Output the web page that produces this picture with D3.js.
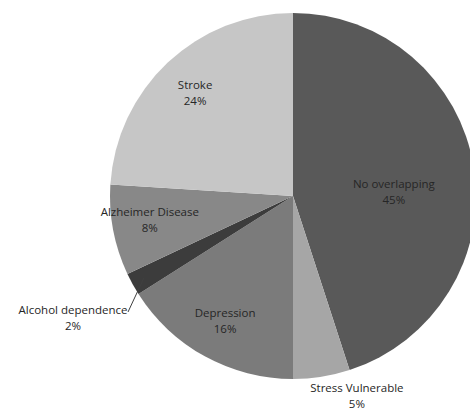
<!DOCTYPE html>
<html>
<head>
<meta charset="utf-8">
<script src="https://cdn.jsdelivr.net/npm/d3@7"></script>
<style>
  body { margin: 0; background: #fff; }
  text { font-family: "Open Sans", "Liberation Sans", sans-serif; font-size: 11.5px; fill: #262626; }
</style>
</head>
<body>
<svg id="chart" width="470" height="408"></svg>
<script>
// slices, clockwise from 12 o'clock
var categories = ["No overlapping", "Stress Vulnerable", "Depression", "Alcohol dependence", "Alzheimer Disease", "Stroke"];
var values = [45, 5, 16, 2, 8, 24];
var colors = ["#595959", "#a6a6a6", "#7b7b7b", "#3c3c3c", "#888888", "#c6c6c6"];

var cx = 293, cy = 196, radius = 183;

// label placement: [angle in degrees clockwise from top, distance from centre] (null = centroid angle)
var labelPlace = {
    "No overlapping": [87, 101],
    "Stress Vulnerable": [162.2, 209],
    "Depression": [null, 141],
    "Alcohol dependence": [null, null],
    "Alzheimer Disease": [261, 145],
    "Stroke": [null, 143]
};

var svg = d3.select("#chart");
var g = svg.append("g").attr("transform", "translate(" + cx + "," + cy + ")");

var data = categories.map(function(c, i){ return {name: c, value: values[i], color: colors[i]}; });

var pie = d3.pie().sort(null).value(function(d){ return d.value; });
var arc = d3.arc().innerRadius(0).outerRadius(radius);
var arcs = pie(data);

g.selectAll("path.slice")
    .data(arcs)
    .enter()
    .append("path")
    .attr("class", "slice")
    .attr("d", arc)
    .attr("fill", function(d){ return d.data.color; });

function polar(angle, r){
    return [Math.sin(angle) * r, -Math.cos(angle) * r];
}

arcs.forEach(function(d){
    var name = d.data.name;
    var mid = (d.startAngle + d.endAngle) / 2;
    var place = labelPlace[name];
    var pos;
    if (name === "Alcohol dependence") {
        // outside label on the left with a leader line
        var edge = polar(mid, radius * 0.93);
        pos = [-220, 121];
        g.append("line")
            .attr("x1", edge[0]).attr("y1", edge[1])
            .attr("x2", -165).attr("y2", 116)
            .attr("stroke", "#404040").attr("stroke-width", 1);
    } else {
        var ang = place[0] === null ? mid : place[0] * Math.PI / 180;
        pos = polar(ang, place[1]);
    }
    var t = g.append("text")
        .attr("text-anchor", "middle")
        .attr("transform", "translate(" + pos[0] + "," + pos[1] + ")");
    t.append("tspan").attr("x", 0).attr("dy", "-0.25em").text(name);
    t.append("tspan").attr("x", 0).attr("dy", "1.4em").text(d.data.value + "%");
});
</script>
</body>
</html>
